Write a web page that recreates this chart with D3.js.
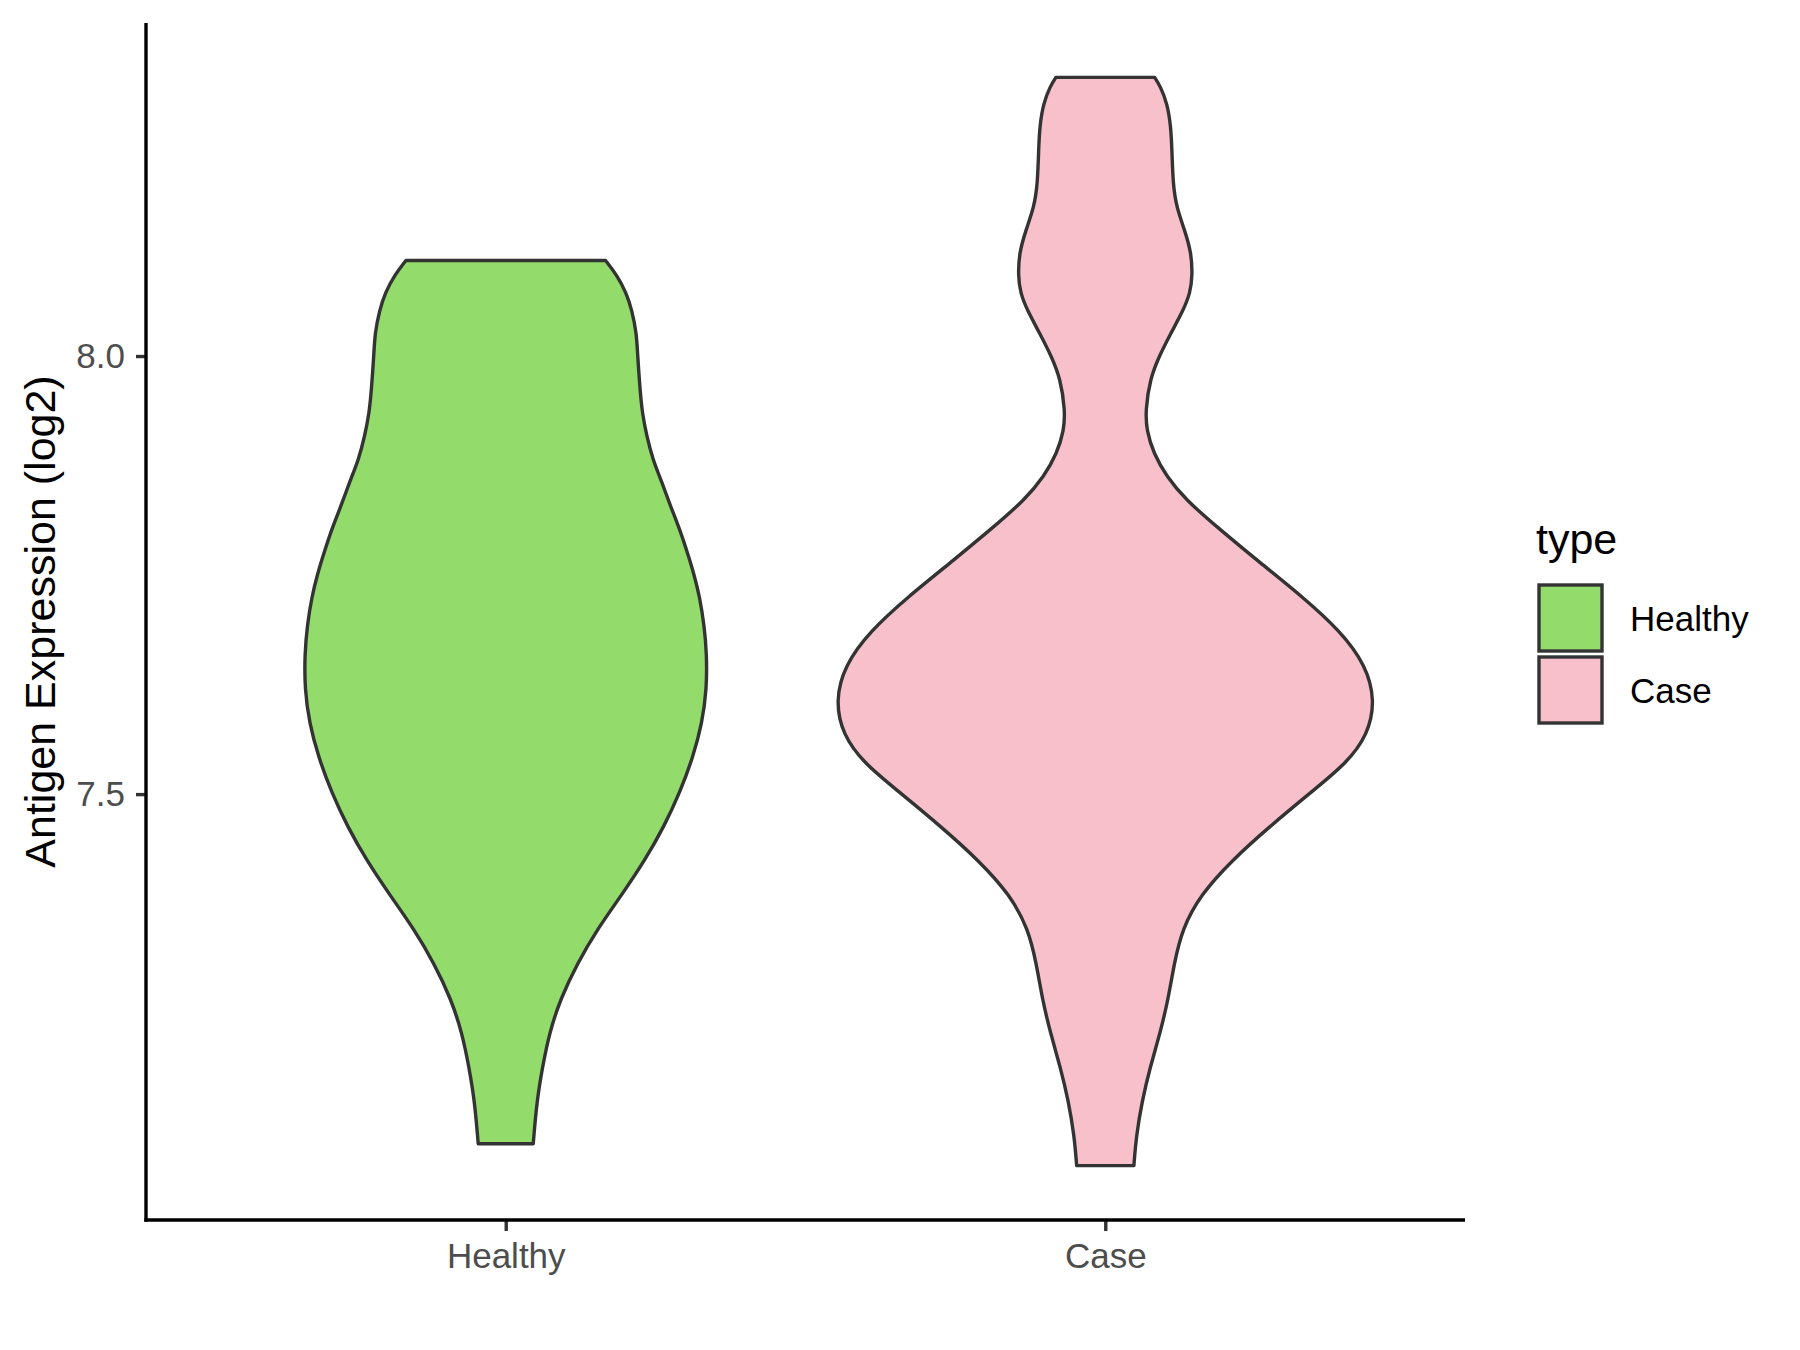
<!DOCTYPE html>
<html>
<head>
<meta charset="utf-8">
<script src="https://cdn.jsdelivr.net/npm/d3@7"></script>
<style>
  html, body { margin: 0; padding: 0; background: #fff; }
  svg text { font-family: "Liberation Sans", Arial, sans-serif; }
</style>
</head>
<body>
<svg id="chart" width="1800" height="1350"></svg>
<script>
// ---- data ----
const categories = ["Healthy", "Case"];
const fillColors = ["#93DB6B", "#F7C0CB"];
const yTicks = [7.5, 8.0];
const yTitle = "Antigen Expression (log2)";
const legendTitle = "type";

// violin outlines: expression value and relative density (1 = widest violin)
const healthyValues  = [8.109, 8.092, 8.072, 8.052, 8.026, 8.000, 7.961, 7.935, 7.908, 7.882, 7.856, 7.830, 7.804, 7.777, 7.751, 7.725, 7.692, 7.660, 7.620, 7.581, 7.542, 7.503, 7.463, 7.424, 7.385, 7.346, 7.306, 7.267, 7.228, 7.188, 7.149, 7.101];
const healthyDensity = [0.370, 0.413, 0.447, 0.468, 0.485, 0.489, 0.498, 0.506, 0.523, 0.545, 0.579, 0.609, 0.643, 0.672, 0.698, 0.719, 0.736, 0.745, 0.745, 0.728, 0.694, 0.647, 0.587, 0.515, 0.430, 0.340, 0.264, 0.204, 0.162, 0.136, 0.115, 0.102];

const caseValues  = [8.318, 8.308, 8.288, 8.262, 8.236, 8.196, 8.170, 8.144, 8.118, 8.092, 8.072, 8.052, 8.026, 8.000, 7.974, 7.938, 7.915, 7.889, 7.863, 7.836, 7.804, 7.764, 7.725, 7.686, 7.647, 7.607, 7.568, 7.535, 7.503, 7.463, 7.424, 7.385, 7.346, 7.306, 7.267, 7.228, 7.188, 7.149, 7.110, 7.076];
const caseDensity = [0.183, 0.204, 0.230, 0.243, 0.247, 0.251, 0.264, 0.294, 0.319, 0.323, 0.315, 0.289, 0.243, 0.200, 0.166, 0.149, 0.153, 0.179, 0.226, 0.298, 0.417, 0.574, 0.732, 0.872, 0.966, 1.000, 0.974, 0.894, 0.766, 0.609, 0.468, 0.353, 0.285, 0.255, 0.234, 0.204, 0.166, 0.136, 0.115, 0.106];

const violins = [
  { cat: "Healthy", values: healthyValues, density: healthyDensity },
  { cat: "Case", values: caseValues, density: caseDensity }
];

// ---- layout ----
const svg = d3.select("#chart");
const plot = { left: 146, right: 1465, top: 23, bottom: 1220 };

const allVals = healthyValues.concat(caseValues);
const vMin = d3.min(allVals), vMax = d3.max(allVals);
const pad = (vMax - vMin) * 0.05;
const y = d3.scaleLinear().domain([vMin - pad, vMax + pad]).range([plot.bottom, plot.top]);

const x = d3.scalePoint().domain(categories).range([plot.left, plot.right]).padding(0.6);
const step = x.step();
const halfMax = step * 0.45;
const color = d3.scaleOrdinal().domain(categories).range(fillColors);

// ---- violins ----
violins.forEach(v => {
  const pts = v.values.map((val, i) => ({ val, d: v.density[i] }));
  const cx = x(v.cat);
  const area = d3.area()
    .y(p => y(p.val))
    .x0(p => cx - p.d * halfMax)
    .x1(p => cx + p.d * halfMax)
    .curve(d3.curveBasis);
  svg.append("path")
    .datum(pts)
    .attr("d", area)
    .attr("fill", color(v.cat))
    .attr("stroke", "#333333")
    .attr("stroke-width", 3.4)
    .attr("stroke-linejoin", "round");
});

// ---- axes ----
const yAxis = d3.axisLeft(y).tickValues(yTicks).tickFormat(d3.format(".1f")).tickSize(10).tickPadding(11);
const gy = svg.append("g").attr("transform", `translate(${plot.left},0)`).call(yAxis);
gy.select(".domain").remove();
gy.selectAll(".tick line").attr("stroke", "#333333").attr("stroke-width", 3.4);
gy.selectAll(".tick text").attr("fill", "#4D4D4D").attr("font-size", 35);

const xAxis = d3.axisBottom(x).tickSize(11);
const gx = svg.append("g").attr("transform", `translate(0,${plot.bottom})`).call(xAxis);
gx.select(".domain").remove();
gx.selectAll(".tick line").attr("stroke", "#333333").attr("stroke-width", 3.4);
gx.selectAll(".tick text").attr("fill", "#4D4D4D").attr("font-size", 35).attr("y", 48).attr("dy", 0);

// axis lines
svg.append("line").attr("x1", plot.left).attr("x2", plot.left).attr("y1", plot.top).attr("y2", plot.bottom + 1.7)
  .attr("stroke", "#000").attr("stroke-width", 3.4);
svg.append("line").attr("x1", plot.left - 1.7).attr("x2", plot.right).attr("y1", plot.bottom).attr("y2", plot.bottom)
  .attr("stroke", "#000").attr("stroke-width", 3.4);

// y title
svg.append("text")
  .attr("transform", `translate(40,${(plot.top + plot.bottom) / 2}) rotate(-90)`)
  .attr("text-anchor", "middle").attr("dominant-baseline", "central")
  .attr("font-size", 43).attr("fill", "#000").text(yTitle);

// ---- legend ----
const lg = svg.append("g").attr("transform", "translate(1536,0)");
lg.append("text").attr("x", 0).attr("y", 554).attr("font-size", 43).attr("fill", "#000").text(legendTitle);
const keyH = 66, keyTop = 585;
categories.forEach((c, i) => {
  const ky = keyTop + i * (keyH + 6);
  lg.append("rect").attr("x", 3).attr("y", ky).attr("width", 63).attr("height", keyH)
    .attr("fill", color(c)).attr("stroke", "#333333").attr("stroke-width", 3.4);
  lg.append("text").attr("x", 94).attr("y", ky + keyH / 2).attr("dominant-baseline", "central")
    .attr("font-size", 35).attr("fill", "#000").text(c);
});
</script>
</body>
</html>
